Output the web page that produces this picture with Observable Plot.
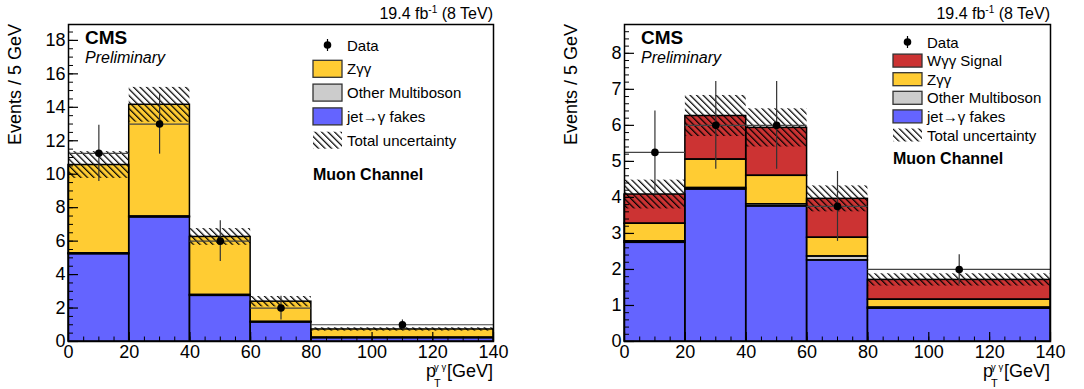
<!DOCTYPE html>
<html>
<head>
<meta charset="utf-8">
<script src="https://cdn.jsdelivr.net/npm/d3@7"></script>
<script src="https://cdn.jsdelivr.net/npm/@observablehq/plot@0.6"></script>
<style>
  html, body { margin: 0; padding: 0; background: #fff; }
  #wrap { display: flex; flex-direction: row; width: 1084px; height: 389px; }
  svg { font-family: "Liberation Sans", Arial, sans-serif; }
</style>
</head>
<body>
<div id="wrap"></div>
<script>
// ---- Data (Events / 5 GeV) ----
const binLo = [0, 20, 40, 60, 80];
const binHi = [20, 40, 60, 80, 140];
const xTicks = [0, 20, 40, 60, 80, 100, 120, 140];

// Left panel
const jetL   = [5.22, 7.42, 2.73, 1.14, 0.20];
const otherL = [0.05, 0.05, 0.05, 0.03, 0.03];
const zggL   = [5.28, 6.68, 3.47, 1.21, 0.49];
const uncL   = [0.80, 1.04, 0.50, 0.31, 0.10];
const dataL  = [11.25, 13.0, 6.0, 2.0, 1.0];
const errL   = [1.68, 1.80, 1.22, 0.71, 0.29];
const yTicksL = [0, 2, 4, 6, 8, 10, 12, 14, 16, 18];

// Right panel
const jetR   = [2.74, 4.22, 3.75, 2.25, 0.91];
const otherR = [0.04, 0.04, 0.06, 0.11, 0.03];
const zggR   = [0.49, 0.79, 0.79, 0.52, 0.22];
const wggR   = [0.81, 1.21, 1.33, 1.08, 0.55];
const uncR   = [0.40, 0.57, 0.53, 0.36, 0.17];
const dataR  = [5.25, 6.0, 6.0, 3.75, 2.0];
const errR   = [1.15, 1.22, 1.22, 0.97, 0.41];
const yTicksR = [0, 1, 2, 3, 4, 5, 6, 7, 8];

const COLORS = {
  jet: "#6464ff",
  other: "#cccccc",
  zgg: "#ffcc33",
  wgg: "#cc3333"
};

function buildStack(layers) {
  const rows = [];
  binLo.forEach((lo, i) => {
    let acc = 0;
    for (const L of layers) {
      rows.push({key: L.key, x1: lo, x2: binHi[i], y1: acc, y2: acc + L.values[i]});
      acc += L.values[i];
    }
  });
  return rows;
}

function makePanel(cfg) {
  const W = 542, H = 389;
  const mt = 24, mb = 48;
  const plotW = W - cfg.ml - cfg.mr, plotH = H - mt - mb;
  const stack = buildStack(cfg.layers);
  const totals = binLo.map((lo, i) => cfg.layers.reduce((s, L) => s + L.values[i], 0));
  const band = binLo.map((lo, i) => ({x1: lo, x2: binHi[i], y1: totals[i] - cfg.unc[i], y2: totals[i] + cfg.unc[i]}));
  const pts = binLo.map((lo, i) => ({lo, hi: binHi[i], xc: (lo + binHi[i]) / 2, v: cfg.data[i], e: cfg.err[i]}));
  const minorX = d3.range(0, 141, 5);
  const minorY = d3.range(0, cfg.ymax, cfg.minorStep);

  const svg = Plot.plot({
    width: W, height: H,
    marginLeft: cfg.ml, marginRight: cfg.mr, marginTop: mt, marginBottom: mb,
    x: {domain: [0, 140]},
    y: {domain: [0, cfg.ymax]},
    style: {fontFamily: "Liberation Sans, Arial, sans-serif", fontSize: "18px", color: "#000", background: "#fff"},
    marks: [
      ...cfg.layers.slice().reverse().map(L =>
        Plot.rect(stack.filter(d => d.key === L.key), {x1: "x1", x2: "x2", y1: "y1", y2: "y2", fill: COLORS[L.key]})
      ),
      ...cfg.layers.map(L =>
        Plot.rect(stack.filter(d => d.key === L.key), {x1: "x1", x2: "x2", y1: "y1", y2: "y2", fill: "none", stroke: "#000", strokeWidth: 1.5})
      ),
      Plot.rect(band, {x1: "x1", x2: "x2", y1: "y1", y2: "y2", fill: `url(#${cfg.id}-hatch)`}),
      Plot.ruleY(pts, {y: "v", x1: "lo", x2: "hi", stroke: "#444", strokeWidth: 1.2}),
      Plot.ruleX(pts, {x: "xc", y1: d => d.v - d.e, y2: d => d.v + d.e, stroke: "#333", strokeWidth: 1.2}),
      Plot.dot(pts, {x: "xc", y: "v", r: 3.8, fill: "#000", stroke: "none"}),
      Plot.tickX(minorX, {x: d => d, insetTop: plotH - 4.5, stroke: "#000", strokeWidth: 1}),
      Plot.tickX(xTicks, {x: d => d, insetTop: plotH - 9, stroke: "#000", strokeWidth: 1.2}),
      Plot.tickY(minorY, {y: d => d, insetRight: plotW - 5, stroke: "#000", strokeWidth: 1}),
      Plot.tickY(cfg.yTicks, {y: d => d, insetRight: plotW - 10, stroke: "#000", strokeWidth: 1.2}),
      Plot.frame({stroke: "#000", strokeWidth: 1.5}),
      Plot.axisX({ticks: xTicks, tickSize: 0, tickPadding: 4, tickFormat: d => String(d), fontSize: 18, label: null}),
      Plot.axisY({ticks: cfg.yTicks, tickSize: 0, tickPadding: 3, tickFormat: d => String(d), fontSize: 18, label: null})
    ]
  });

  const s = d3.select(svg);
  const defs = s.insert("defs", ":first-child");
  const pat = defs.append("pattern")
    .attr("id", `${cfg.id}-hatch`)
    .attr("patternUnits", "userSpaceOnUse")
    .attr("width", 4.6).attr("height", 4.6)
    .attr("patternTransform", "rotate(-45)");
  pat.append("line").attr("x1", 0.6).attr("y1", -1).attr("x2", 0.6).attr("y2", 6)
    .attr("stroke", "#000").attr("stroke-width", 1.3);

  const fx0 = cfg.ml, fx1 = W - cfg.mr;
  const g = s.append("g")
    .attr("font-family", "Liberation Sans, Arial, sans-serif")
    .attr("fill", "#000")
    .attr("text-anchor", "start");

  const T = (x, y, size, txt, anchor = "start") =>
    g.append("text").attr("x", x).attr("y", y).attr("font-size", size).attr("text-anchor", anchor).text(txt);

  // lumi label
  const lumi = g.append("text").attr("x", fx1).attr("y", 19).attr("text-anchor", "end").attr("font-size", 16);
  lumi.append("tspan").text("19.4 fb");
  lumi.append("tspan").attr("dy", -6).attr("font-size", 10).text("-1");
  lumi.append("tspan").attr("dy", 6).text(" (8 TeV)");

  // y title
  g.append("text")
    .attr("transform", `translate(${cfg.ml - 47},${mt}) rotate(-90)`)
    .attr("text-anchor", "end").attr("font-size", 18).text("Events / 5 GeV");

  // x title
  T(fx1, 377, 18, "[GeV]", "end");
  T(fx1 - 57, 377, 18, "p", "end");
  T(fx1 - 59, 369.5, 9.5, "γ γ", "start");
  T(fx1 - 59, 387, 11, "T", "start");

  // CMS / Preliminary
  T(fx0 + 17, 44, 19, "CMS").attr("font-weight", "bold");
  T(fx0 + 17, 63, 16, "Preliminary").attr("font-style", "italic");

  // legend
  const lg = cfg.legend;
  cfg.legendItems.forEach((it, i) => {
    const cy = lg.y0 + i * lg.dy;
    if (it.kind === "data") {
      const cx = lg.x + lg.bw / 2;
      g.append("line").attr("x1", cx).attr("x2", cx).attr("y1", cy - 6).attr("y2", cy + 6).attr("stroke", "#000").attr("stroke-width", 1.2);
      g.append("circle").attr("cx", cx).attr("cy", cy).attr("r", 3.8).attr("fill", "#000");
    } else if (it.kind === "hatch") {
      g.append("rect").attr("x", lg.x).attr("y", cy - lg.bh / 2).attr("width", lg.bw).attr("height", lg.bh)
        .attr("fill", `url(#${cfg.id}-hatch)`);
    } else {
      g.append("rect").attr("x", lg.x).attr("y", cy - lg.bh / 2).attr("width", lg.bw).attr("height", lg.bh)
        .attr("fill", COLORS[it.kind]).attr("stroke", "#333").attr("stroke-width", 1.3);
    }
    T(lg.x + lg.bw + 5, cy + 5.5, 15, it.label);
  });
  T(lg.x, lg.chanY, 16, "Muon Channel").attr("font-weight", "bold");

  return svg;
}

const wrap = document.getElementById("wrap");
wrap.appendChild(makePanel({
  id: "L", ml: 68, mr: 49, ymax: 18.95, minorStep: 0.5, yTicks: yTicksL,
  layers: [{key: "jet", values: jetL}, {key: "other", values: otherL}, {key: "zgg", values: zggL}],
  unc: uncL, data: dataL, err: errL,
  legend: {x: 313, y0: 45, dy: 23.8, bw: 29, bh: 17, chanY: 180},
  legendItems: [
    {kind: "data", label: "Data"},
    {kind: "zgg", label: "Zγγ"},
    {kind: "other", label: "Other Multiboson"},
    {kind: "jet", label: "jet→γ fakes"},
    {kind: "hatch", label: "Total uncertainty"}
  ]
}));
wrap.appendChild(makePanel({
  id: "R", ml: 82, mr: 34, ymax: 8.8, minorStep: 0.2, yTicks: yTicksR,
  layers: [{key: "jet", values: jetR}, {key: "other", values: otherR}, {key: "zgg", values: zggR}, {key: "wgg", values: wggR}],
  unc: uncR, data: dataR, err: errR,
  legend: {x: 351, y0: 42, dy: 18.6, bw: 29, bh: 13, chanY: 164},
  legendItems: [
    {kind: "data", label: "Data"},
    {kind: "wgg", label: "Wγγ Signal"},
    {kind: "zgg", label: "Zγγ"},
    {kind: "other", label: "Other Multiboson"},
    {kind: "jet", label: "jet→γ fakes"},
    {kind: "hatch", label: "Total uncertainty"}
  ]
}));
</script>
</body>
</html>
